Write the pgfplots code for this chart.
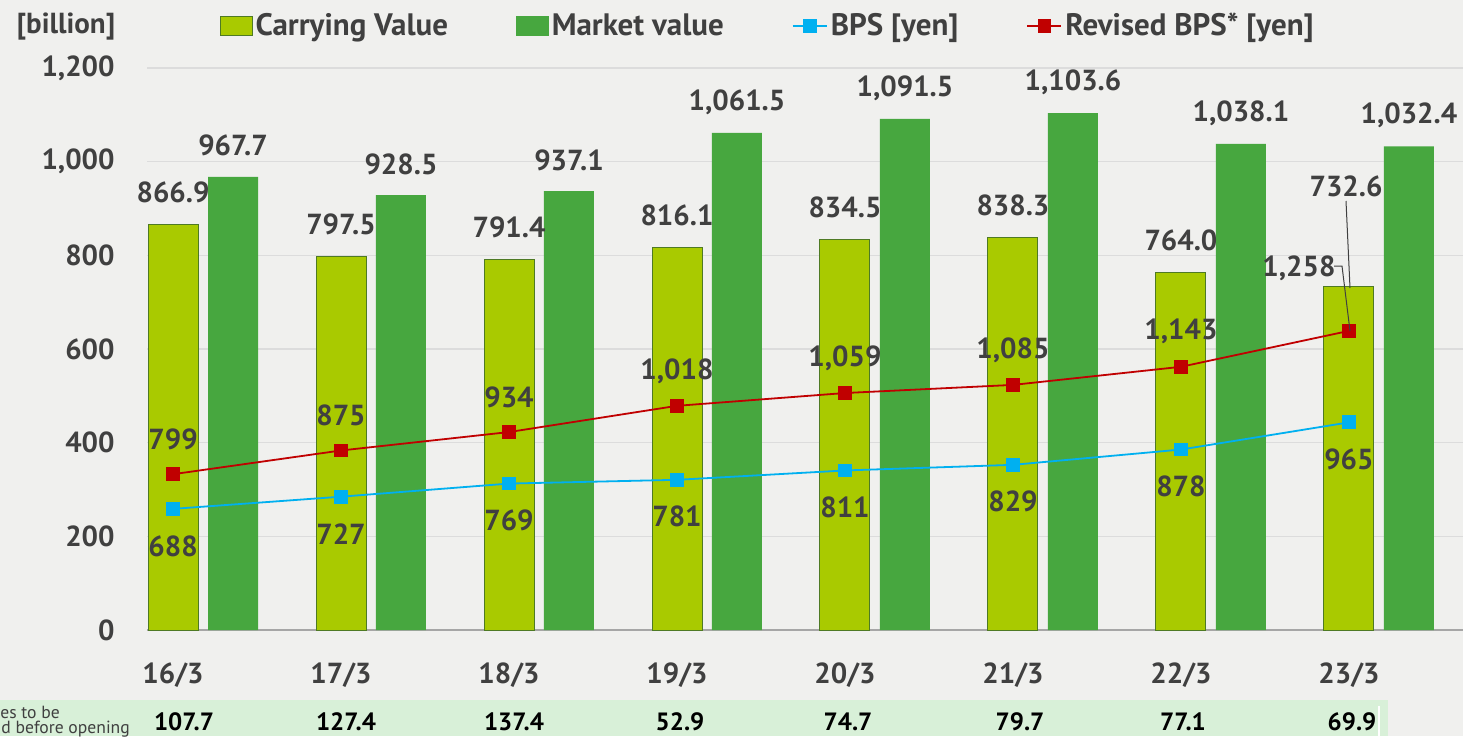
\documentclass[border=0pt]{standalone}
\usepackage{pgfplots}
\pgfplotsset{compat=1.18}
\usepackage{fontspec}
\setmainfont{PT Sans}
\definecolor{bg}{HTML}{F0F0EE}
\definecolor{carry}{HTML}{A9CA00}
\definecolor{carryedge}{HTML}{4E7A24}
\definecolor{market}{HTML}{47A73F}
\definecolor{bpsc}{HTML}{00B0F0}
\definecolor{revc}{HTML}{C00000}
\definecolor{txtc}{HTML}{404040}
\definecolor{gridc}{HTML}{DCDCDC}
\definecolor{zeroc}{HTML}{A6A6A6}
\definecolor{strip}{HTML}{D8F0D8}
\pgfplotsset{/pgf/number format/assume math mode=true}
\newcommand\lbl{\fontsize{14.5}{17}\selectfont\bfseries}
\newcommand\leg{\fontsize{15.5}{18}\selectfont\bfseries}
\begin{document}
\begin{tikzpicture}[font=\lbl, every node/.append style={text=txtc}]
\fill[bg] (0,0) rectangle (731.5pt,368pt);
\begin{scope}[x=0.5pt,y=-0.5pt,yshift=368pt]
  \fill[strip] (0,700) rectangle (1388,736);
  \draw[white, line width=0.6pt] (1379,706) -- (1379,736);
  \node[font=\fontsize{8.8}{10}\selectfont\mdseries, anchor=base west, inner sep=0pt] at (0,718) {es to be};
  \node[font=\fontsize{8.8}{10}\selectfont\mdseries, anchor=base west, inner sep=0pt] at (1,733) {d before opening};
  \node[anchor=center, inner sep=0pt] at (66,27) {[billion]};
  \foreach \xx/\vv in {184/107.7, 346/127.4, 514/137.4, 680/52.9, 848/74.7, 1020/79.7, 1183/77.1, 1352/69.9}
    \node[anchor=center, inner sep=0pt, text=black, font=\fontsize{12.5}{14}\selectfont\bfseries] at (\xx,722) {\vv};
\end{scope}

\begin{axis}[
  at={(73.5pt,53pt)}, anchor=south west,
  scale only axis, width=658pt, height=281pt,
  xmin=-0.155, xmax=7.679, ymin=0, ymax=1200,
  axis line style={draw=none}, tick style={draw=none},
  major tick length=0pt,
  ytick={0,200,...,1200},
  ymajorgrids, grid style={gridc, line width=0.6pt},
  extra y ticks={0}, extra y tick labels={},
  extra y tick style={grid style={zeroc, line width=0.9pt}},
  xtick={0,...,7},
  xticklabels={16/3,17/3,18/3,19/3,20/3,21/3,22/3,23/3},
  xticklabel style={anchor=center, inner sep=0pt, yshift=-22.5pt, font=\lbl, text=txtc},
  yticklabel style={anchor=east, inner sep=0pt, xshift=-16pt, font=\lbl, text=txtc, /pgf/number format/1000 sep={,}},
  clip=false,
]
\addplot[ybar, bar width=25pt, bar shift=0pt, fill=carry, draw=carryedge, line width=0.5pt]
  coordinates {(0,866.9) (1,797.5) (2,791.4) (3,816.1) (4,834.5) (5,838.3) (6,764.0) (7,732.6)};
\addplot[ybar, bar width=25pt, bar shift=0pt, fill=market, draw=none]
  coordinates {(0.357,967.7) (1.357,928.5) (2.357,937.1) (3.357,1061.5) (4.357,1091.5) (5.357,1103.6) (6.357,1038.1) (7.357,1032.4)};
% value labels
\addplot[draw=none, mark=none, nodes near coords, point meta=y,
  /pgf/number format/fixed, /pgf/number format/fixed zerofill, /pgf/number format/precision=1, /pgf/number format/1000 sep={,},
  every node near coord/.append style={anchor=center, yshift=16pt, font=\lbl, text=txtc}]
  coordinates {(0,866.9) (1,797.5) (2,791.4) (3,816.1) (4,834.5) (5,838.3) (6,764.0)};
\addplot[draw=none, mark=none, nodes near coords, point meta=y,
  /pgf/number format/fixed, /pgf/number format/fixed zerofill, /pgf/number format/precision=1, /pgf/number format/1000 sep={,},
  every node near coord/.append style={anchor=center, yshift=15.5pt, font=\lbl, text=txtc}]
  coordinates {(0.357,967.7) (1.357,928.5) (2.357,937.1) (3.357,1061.5) (4.357,1091.5) (5.357,1103.6) (6.357,1038.1) (7.357,1032.4)};
\end{axis}

\begin{axis}[
  at={(73.5pt,53pt)}, anchor=south west,
  scale only axis, width=658pt, height=281pt,
  xmin=-0.155, xmax=7.679, ymin=300, ymax=2100,
  hide axis, clip=false,
  legend columns=4,
  legend style={draw=none, fill=none, at={(0.472,1.0745)}, anchor=center, font=\leg, text=txtc,
    nodes={inner sep=1.5pt},
    /tikz/every odd column/.append style={column sep=0pt},
    /tikz/every even column/.append style={column sep=32.5pt}},
]
\addlegendimage{legend image code/.code={\draw[fill=carry, draw=carryedge, line width=0.5pt] (0pt,-4.8pt) rectangle (16pt,4.8pt);}}
\addlegendentry{Carrying Value}
\addlegendimage{legend image code/.code={\fill[market] (0pt,-4.8pt) rectangle (16pt,4.8pt);}}
\addlegendentry{Market value}
\addplot[bpsc, line width=0.9pt, mark=square*, mark size=3pt, mark options={solid, fill=bpsc, draw=bpsc}]
  coordinates {(0,688) (1,727) (2,769) (3,781) (4,811) (5,829) (6,878) (7,965)};
\addlegendentry{BPS [yen]}
\addplot[revc, line width=0.9pt, mark=square*, mark size=3pt, mark options={solid, fill=revc, draw=revc}]
  coordinates {(0,799) (1,875) (2,934) (3,1018) (4,1059) (5,1085) (6,1143) (7,1258)};
\addlegendentry{Revised BPS* [yen]}
\addplot[forget plot, draw=none, mark=none, nodes near coords, point meta=y,
  /pgf/number format/fixed, /pgf/number format/precision=0, /pgf/number format/1000 sep={,},
  every node near coord/.append style={anchor=center, yshift=-18.5pt, font=\lbl, text=txtc}]
  coordinates {(0,688) (1,727) (2,769) (3,781) (4,811) (5,829) (6,878) (7,965)};
\addplot[forget plot, draw=none, mark=none, nodes near coords, point meta=y,
  /pgf/number format/fixed, /pgf/number format/precision=0, /pgf/number format/1000 sep={,},
  every node near coord/.append style={anchor=center, yshift=17.5pt, font=\lbl, text=txtc}]
  coordinates {(0,799) (1,875) (2,934) (3,1018) (4,1059) (5,1085) (6,1143)};
\end{axis}

\begin{scope}[x=0.5pt,y=-0.5pt,yshift=368pt]
  \node[anchor=center, inner sep=0pt] at (1346,186) {732.6};
  \draw[txtc, line width=0.5pt] (1346,201) -- (1350,288);
  \node[anchor=center, inner sep=0pt] at (1299,268) {1,258};
  \draw[txtc, line width=0.5pt] (1334,266) -- (1342,266) -- (1350,331);
\end{scope}
\pgfresetboundingbox
\useasboundingbox (0,0) rectangle (731.5pt,368pt);
\end{tikzpicture}
\end{document}
